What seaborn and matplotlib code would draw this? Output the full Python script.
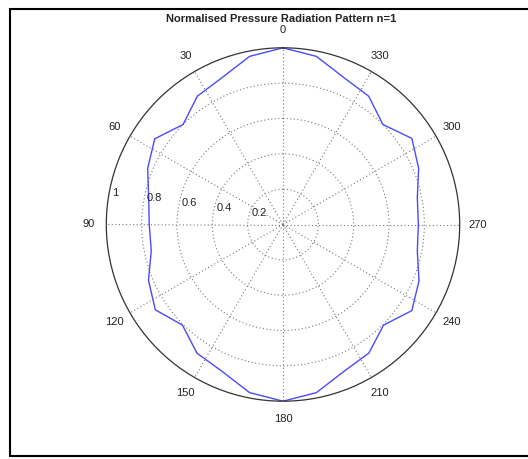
import numpy as np
import pandas as pd
import matplotlib
matplotlib.use("Agg")
import matplotlib.pyplot as plt
from matplotlib.lines import Line2D
import seaborn as sns

# ---- data ----
angles_deg = [0, 11.25, 22.5, 33.75, 45, 56.25, 67.5, 78.75, 90,
              101.25, 112.5, 123.75, 135, 146.25, 157.5, 168.75, 180,
              191.25, 202.5, 213.75, 225, 236.25, 247.5, 258.75, 270,
              281.25, 292.5, 303.75, 315, 326.25, 337.5, 348.75, 360]
pressure = [1.00, 0.97, 0.90, 0.873, 0.80, 0.873, 0.829, 0.775, 0.757,
            0.760, 0.824, 0.869, 0.805, 0.876, 0.90, 0.970, 1.00,
            0.970, 0.90, 0.875, 0.805, 0.877, 0.833, 0.775, 0.766,
            0.775, 0.831, 0.877, 0.80, 0.873, 0.90, 0.970, 1.00]
theta_labels = ["0", "30", "60", "90", "120", "150", "180",
                "210", "240", "270", "300", "330"]
theta_label_angles = [0, 30, 60, 90, 120, 150, 180, 210, 240, 270, 300, 330]
r_ticks = [0.2, 0.4, 0.6, 0.8, 1.0]
r_labels = ["0.2", "0.4", "0.6", "0.8", "1"]
title = "Normalised Pressure Radiation Pattern n=1"

df = pd.DataFrame({"theta": np.deg2rad(angles_deg), "r": pressure})

sns.set_style("white")
plt.rcParams["font.family"] = ["Liberation Sans", "DejaVu Sans"]

W, H = 528, 459
fig = plt.figure(figsize=(W / 100, H / 100), dpi=100)
fig.patch.set_facecolor("white")

cx, cy, R = 283.0, 224.5, 176.7
ax = fig.add_axes([(cx - R) / W, (H - cy - R) / H, 2 * R / W, 2 * R / H],
                  projection="polar")
ax.set_theta_zero_location("N")
ax.set_theta_direction(1)
ax.set_ylim(0, 1)
ax.set_facecolor("white")

grid_kw = dict(color="#7a7a7a", linestyle=(0, (1, 2.2)), linewidth=0.8)
ax.set_rticks([0.2, 0.4, 0.6, 0.8])
ax.set_yticklabels([])
ax.set_thetagrids(theta_label_angles, labels=[""] * len(theta_label_angles))
ax.grid(True, **grid_kw)
ax.spines["polar"].set_color("#333333")
ax.spines["polar"].set_linewidth(0.9)
ax.tick_params(length=0)

sns.lineplot(data=df, x="theta", y="r", sort=False, estimator=None,
             color="#4a4aff", linewidth=1.0, ax=ax, legend=False)
ax.set_xlabel("")
ax.set_ylabel("")

# theta labels
for a, lab in zip(theta_label_angles, theta_labels):
    ax.text(np.deg2rad(a), 1.10, lab, ha="center", va="center",
            fontsize=8, color="#222222", clip_on=False)

# radial labels
for rv, lab in zip(r_ticks, r_labels):
    ax.annotate(lab, xy=(np.deg2rad(82), rv + 0.01), xytext=(4, 2.6),
                textcoords="offset points", ha="left", va="baseline",
                fontsize=8, color="#222222", annotation_clip=False)

fig.text(281.5 / W, 1 - 19 / H, title, ha="center", va="center",
         fontsize=8.0, fontweight="bold", color="#222222")

# outer frame (top, left, bottom)
def px(x, y):
    return x / W, 1 - y / H
lw = 1.5
for (x0, y0), (x1, y1) in [((10, 9), (W + 5, 9)),
                           ((10, 8), (10, 456.5)),
                           ((9, 455.5), (W + 5, 455.5))]:
    a0, b0 = px(x0, y0)
    a1, b1 = px(x1, y1)
    fig.add_artist(Line2D([a0, a1], [b0, b1], color="black", linewidth=lw,
                          transform=fig.transFigure, solid_capstyle="butt"))

fig.savefig("out.png", dpi=100, facecolor="white")
